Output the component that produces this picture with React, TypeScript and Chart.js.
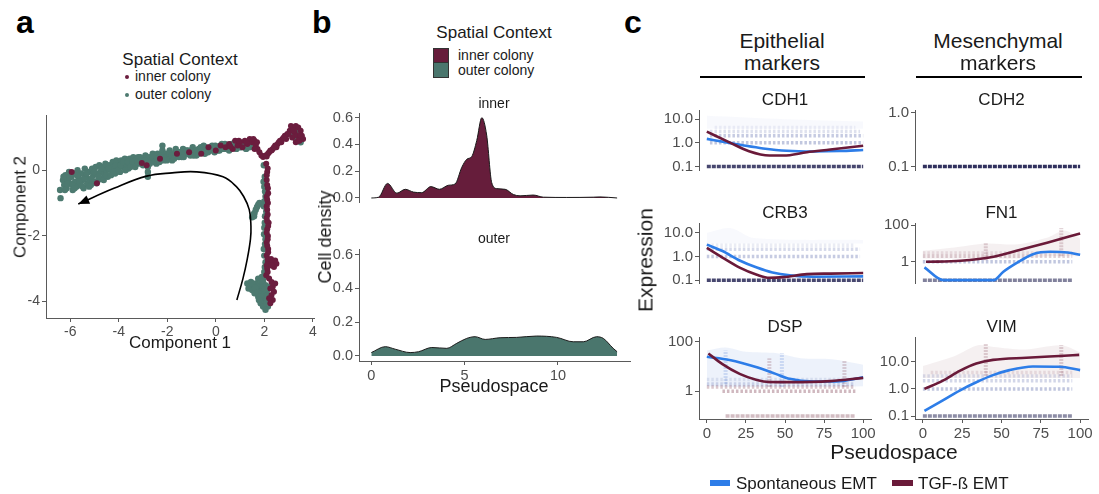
import React, { useEffect, useRef } from "react";
import { Chart, registerables } from "chart.js";
Chart.register(...registerables);

// ---------------- DATA ----------------
// Panel a: trajectory (Component 1, Component 2)
const OUTER_POINTS: [number, number][] = [
  [-6.42, -0.6], [-6.4, -0.85], [-6.3, -0.3], [-6.25, -0.45], [-6.2, -0.15], [-6.15, -0.55], [-6.1, -0.3], [-6.05, -0.05],
  [-6.0, -0.4], [-5.95, -0.2], [-5.9, -0.6], [-5.85, -0.1], [-5.8, -0.35], [-5.75, -0.5], [-5.7, 0.0], [-5.65, -0.25],
  [-5.6, -0.45], [-5.55, -0.1], [-5.5, -0.3], [-5.45, -0.55], [-5.4, 0.05], [-5.35, -0.2], [-5.3, -0.4], [-5.25, -0.05],
  [-5.2, -0.3], [-5.15, -0.45], [-5.1, 0.05], [-5.05, -0.15], [-5.0, -0.35], [-4.95, 0.1], [-4.9, -0.1], [-4.85, -0.3],
  [-4.8, 0.15], [-4.75, -0.05], [-4.7, -0.25], [-4.65, 0.1], [-4.6, -0.1], [-4.55, 0.2], [-4.5, 0.0], [-4.45, -0.2],
  [-4.4, 0.15], [-4.3, 0.0], [-4.25, 0.25], [-4.2, 0.1], [-4.15, -0.1], [-4.1, 0.3], [-4.0, 0.15], [-3.95, -0.05],
  [-3.9, 0.3], [-3.8, 0.1], [-3.75, 0.35], [-3.7, 0.2], [-3.6, 0.05], [-3.55, 0.35], [-3.5, 0.2], [-3.4, 0.4],
  [-3.35, 0.15], [-3.3, 0.3], [-3.2, 0.4], [-3.15, 0.2], [-3.05, 0.35], [-3.0, 0.15], [-2.9, 0.45], [-2.85, 0.25],
  [-2.8, 0.1], [-2.8, -0.05], [-2.8, -0.2], [-2.75, 0.4], [-2.65, 0.3], [-2.6, 0.5], [-2.5, 0.35], [-2.45, 0.2],
  [-2.4, 0.5], [-2.3, 0.4], [-2.2, 0.6], [-2.2, 0.75], [-2.15, 0.3], [-2.05, 0.5], [-1.95, 0.4], [-1.9, 0.6], [-1.8, 0.3],
  [-1.75, 0.5], [-1.65, 0.65], [-1.6, 0.45], [-1.5, 0.55], [-1.4, 0.4], [-1.35, 0.65], [-1.25, 0.5], [-1.15, 0.6],
  [-1.05, 0.45], [-0.95, 0.7], [-0.9, 0.55], [-0.8, 0.45], [-0.7, 0.65], [-0.6, 0.55], [-0.5, 0.75], [-0.45, 0.5],
  [-0.35, 0.65], [-0.25, 0.6], [-0.15, 0.75], [-0.05, 0.55], [0.05, 0.7], [0.15, 0.6], [0.25, 0.8], [0.35, 0.65],
  [0.45, 0.75], [0.55, 0.6], [0.65, 0.8], [0.75, 0.7], [0.85, 0.65], [0.95, 0.85], [1.05, 0.7], [1.15, 0.8],
  [1.25, 0.65], [1.35, 0.75], [1.45, 0.85], [1.55, 0.7],
  [-6.28, -0.2], [-6.22, -0.6], [-6.12, -0.42], [-6.02, -0.22], [-5.92, -0.45], [-5.82, -0.55], [-5.72, -0.15],
  [-5.62, -0.35], [-5.52, -0.48], [-5.42, -0.25], [-5.32, -0.1], [-5.22, -0.5], [-5.12, -0.25], [-5.02, -0.05],
  [-4.92, -0.4], [-4.82, -0.2], [-4.72, 0.05], [-4.62, -0.3], [-4.52, -0.15], [-4.42, 0.05], [-4.32, -0.15],
  [-4.22, -0.05], [-4.12, 0.15], [-4.02, 0.0], [-3.92, 0.15], [-3.82, 0.25], [-3.72, 0.0], [-3.62, 0.25], [-3.52, 0.1],
  [-3.42, 0.25], [-3.32, 0.1], [-3.22, 0.25], [-3.12, 0.4], [-3.02, 0.25], [-2.92, 0.3], [-2.72, 0.2], [-2.62, 0.4],
  [-2.52, 0.25], [-2.42, 0.35], [-2.32, 0.25], [-2.22, 0.45], [-2.12, 0.4], [-2.02, 0.3], [-1.92, 0.5], [-1.82, 0.45],
  [-1.72, 0.35], [-1.62, 0.55], [-1.52, 0.4], [-1.42, 0.55], [-1.32, 0.4], [-1.22, 0.6], [-1.12, 0.5], [-1.02, 0.6],
  [-0.92, 0.45], [-0.82, 0.6], [-0.72, 0.5], [-0.62, 0.7], [-0.52, 0.6], [-0.42, 0.7], [-0.32, 0.55], [-0.22, 0.7],
  [-0.12, 0.6], [-0.02, 0.75], [0.08, 0.6], [0.18, 0.75], [0.28, 0.65], [0.38, 0.8], [0.48, 0.65], [0.58, 0.75],
  [0.68, 0.7], [0.78, 0.85], [0.88, 0.75], [0.98, 0.7], [1.08, 0.85], [1.18, 0.7], [1.28, 0.85], [1.38, 0.7], [1.48, 0.75],
  [1.98, 0.15], [2.02, -0.2], [2.0, -0.5], [2.05, -0.8], [1.98, -1.1], [2.08, -1.25], [2.03, -1.4], [2.0, -1.75],
  [2.05, -2.1], [1.98, -2.4], [2.05, -2.8], [2.0, -3.1],
  [1.97, -0.35], [2.03, -0.65], [2.0, -0.95], [2.02, -1.6], [1.99, -1.95], [2.03, -2.25], [2.0, -2.6], [2.02, -2.95], [2.0, -3.25],
  [1.5, -1.43], [1.55, -1.35], [1.58, -1.4], [1.6, -1.3], [1.65, -1.2], [1.7, -1.12], [1.75, -1.05], [1.8, -1.0],
  [1.3, -3.45], [1.4, -3.55], [1.45, -3.4], [1.5, -3.65], [1.55, -3.5], [1.6, -3.75], [1.65, -3.45], [1.7, -3.6],
  [1.75, -3.85], [1.8, -3.5], [1.85, -3.7], [1.9, -3.95], [1.95, -3.4], [1.95, -3.6], [2.0, -3.8], [2.0, -4.05],
  [2.05, -3.5], [2.1, -3.7], [2.1, -3.95], [2.15, -4.15], [2.05, -4.25], [1.85, -4.05], [1.75, -3.3], [1.9, -3.25],
  [2.2, -3.55], [2.25, -3.85],
  [1.35, -3.6], [1.5, -3.45], [1.62, -3.58], [1.72, -3.72], [1.82, -3.85], [1.92, -3.5], [2.02, -3.62], [2.12, -3.82],
  [1.95, -4.15], [1.78, -3.95], [1.88, -3.38], [2.08, -4.05],
  [3.2, 1.05], [3.3, 0.95], [3.4, 1.15], [3.45, 1.0], [3.5, 0.85], [3.35, 1.25],
];
const INNER_POINTS: [number, number][] = [
  [-5.94, -0.05], [-4.9, -0.4], [-3.05, 0.22], [-2.85, 0.15], [-2.3, 0.35], [-1.6, 0.5], [-1.1, 0.55], [-0.6, 0.5],
  [-0.3, 0.7], [0.0, 0.6], [0.2, 0.75], [0.4, 0.7], [0.55, 0.8], [0.7, 0.65], [0.8, 0.9], [0.9, 0.75], [1.0, 0.85],
  [1.1, 0.7], [1.2, 0.9], [1.3, 0.8], [1.4, 0.95], [1.5, 0.85], [1.6, 0.9], [1.65, 0.75], [1.72, 0.65], [1.8, 0.55],
  [1.88, 0.45], [1.95, 0.4], [0.6, 0.72], [0.95, 0.9], [1.25, 0.85], [1.55, 0.95], [1.7, 0.85], [1.6, 0.65],
  [2.05, 0.45], [2.15, 0.5], [2.25, 0.6], [2.35, 0.65], [2.45, 0.75], [2.55, 0.8], [2.65, 0.9], [2.75, 0.95],
  [2.85, 1.05], [2.95, 1.1], [3.05, 1.2], [3.1, 1.35], [3.2, 1.3], [3.25, 1.15], [3.3, 1.35], [3.4, 1.3], [3.5, 1.2],
  [3.55, 1.05], [3.6, 0.95], [3.45, 0.9], [3.3, 0.85], [3.15, 1.0], [2.5, 0.7], [2.7, 0.85], [2.9, 0.95],
  [2.1, 0.42], [2.2, 0.55], [2.3, 0.6], [2.4, 0.7], [2.6, 0.85], [2.8, 1.0], [3.0, 1.1], [3.2, 1.2], [3.35, 1.05],
  [3.5, 1.05], [3.4, 0.9],
  [2.08, 0.2], [2.12, -0.05], [2.1, -0.3], [2.15, -0.55], [2.1, -0.8], [2.15, -1.0], [2.12, -1.2], [2.1, -1.45],
  [2.18, -1.6], [2.12, -1.8], [2.15, -2.0], [2.1, -2.2], [2.16, -2.4], [2.1, -2.6], [2.15, -2.8], [2.12, -3.0], [2.08, -3.2],
  [2.14, 0.05], [2.1, -0.15], [2.12, -0.45], [2.16, -0.7], [2.12, -0.9], [2.1, -1.1], [2.14, -1.35], [2.12, -1.55],
  [2.16, -1.7], [2.1, -1.9], [2.14, -2.1], [2.12, -2.3], [2.16, -2.5], [2.14, -2.7], [2.1, -2.9], [2.14, -3.1],
  [2.28, -2.7], [2.35, -2.8], [2.45, -2.75], [2.5, -2.85], [2.4, -2.95], [2.3, -2.9],
  [2.2, -3.3], [2.3, -3.4], [2.35, -3.55], [2.25, -3.6], [2.4, -3.7], [2.3, -3.8], [2.35, -3.95], [2.2, -3.9],
  [2.45, -3.45], [2.25, -4.05],
];
const ARROW_PATH: [number, number][] = [
  [0.87, -3.95], [1.12, -3.3], [1.3, -2.7], [1.43, -2.1], [1.45, -1.7], [1.38, -1.2], [1.15, -0.8], [0.85, -0.5],
  [0.3, -0.2], [-0.8, -0.05], [-1.8, -0.08], [-2.85, -0.18], [-4.2, -0.55], [-5.67, -1.03],
];
const A_X_TICKS = [-6, -4, -2, 0, 2, 4];
const A_Y_TICKS = [-4, -2, 0];

// Panel b: density over pseudospace
const DENS_INNER_X = [0, 0.39, 0.87, 1.37, 1.82, 2.26, 2.7, 3.19, 3.65, 4.13, 4.49, 4.85, 5.12, 5.38, 5.65, 5.92, 6.18, 6.45, 6.72, 7.17, 7.61, 7.97, 8.68, 9.22, 10.47, 11.89, 12.25, 13.17];
const DENS_INNER_Y = [0, 0.006, 0.109, 0.036, 0.065, 0.044, 0.04, 0.085, 0.065, 0.095, 0.105, 0.23, 0.29, 0.31, 0.43, 0.6, 0.47, 0.115, 0.07, 0.065, 0.026, 0.016, 0.022, 0.006, 0.004, 0.006, 0.008, 0];
const DENS_OUTER_X = [0, 0.75, 1.28, 2.08, 2.53, 3.24, 4.04, 4.58, 5.11, 5.56, 6.1, 6.9, 7.79, 8.86, 9.93, 10.82, 11.36, 12.07, 12.43, 12.96, 13.17];
const DENS_OUTER_Y = [0.02, 0.055, 0.04, 0.02, 0.025, 0.05, 0.045, 0.075, 0.104, 0.114, 0.098, 0.108, 0.11, 0.118, 0.11, 0.084, 0.084, 0.114, 0.104, 0.045, 0.025];
const B_X_TICKS = [0, 5, 10];
const B_Y_TICKS = [0, 0.2, 0.4, 0.6];

// Panel c: expression along pseudospace
const PSEUDO_TICKS = [0, 25, 50, 75, 100];

const CDH1_SPONT_X = [0, 14.5, 25, 36, 51, 68, 85, 100];
const CDH1_SPONT_Y = [1.48, 1.0, 0.75, 0.58, 0.46, 0.43, 0.45, 0.5];
const CDH1_TGF_X = [0, 14.5, 27, 40, 49, 64, 79, 100];
const CDH1_TGF_Y = [3.0, 1.05, 0.44, 0.29, 0.29, 0.4, 0.52, 0.76];
const CDH1_BANDS: [number, number, number][] = [[0.1, 0, 100], [1, 2, 100], [2, 2, 100], [3, 2, 98], [4.5, 5, 95]];
const CDH1_CLOUD_X = [0, 50, 100];
const CDH1_CLOUD_LO = [4, 4, 4];
const CDH1_CLOUD_HI = [14, 10, 8];

const CRB3_SPONT_X = [0, 10, 21, 32, 42, 53, 68, 100];
const CRB3_SPONT_Y = [3.16, 1.7, 0.68, 0.34, 0.21, 0.16, 0.14, 0.145];
const CRB3_TGF_X = [0, 10, 21, 32, 40, 49, 64, 79, 100];
const CRB3_TGF_Y = [2.3, 0.9, 0.34, 0.17, 0.126, 0.135, 0.18, 0.19, 0.2];
const CRB3_BANDS: [number, number, number][] = [[0.1, 0, 100], [1, 0, 98], [2, 0, 98], [3, 0, 95]];
const CRB3_CLOUD_X = [0, 15, 30, 100];
const CRB3_CLOUD_LO = [3.5, 3.5, 3.5, 3.5];
const CRB3_CLOUD_HI = [10, 16, 6, 5];

const DSP_SPONT_X = [0, 14.5, 32, 44, 53, 68, 83, 100];
const DSP_SPONT_Y = [25, 18.5, 9.4, 5.1, 3.2, 2.5, 2.5, 3.7];
const DSP_TGF_X = [1, 10, 21, 32, 40, 53, 79, 100];
const DSP_TGF_Y = [34, 12.7, 5.1, 2.9, 2.4, 2.35, 2.6, 3.5];
const DSP_BANDS: [number, number, number][] = [[0.1, 12, 95], [1, 10, 95], [1.5, 0, 95], [2, 0, 95], [3, 0, 95]];
const DSP_CLOUD_X = [0, 12, 25, 45, 60, 80, 100];
const DSP_CLOUD_LO = [1.6, 1.5, 1.5, 1.5, 1.5, 1.5, 1.6];
const DSP_CLOUD_HI = [45, 60, 40, 35, 22, 20, 12];
const DSP_SMEARS: [number, number, number][] = [[12, 2, 45], [40, 1.5, 22], [48, 1.5, 35], [88, 1.5, 18]];

const CDH2_BANDS: [number, number, number][] = [[0.1, 0, 100]];

const FN1_SPONT_X = [1, 13, 45, 51, 60, 70, 81, 92, 100];
const FN1_SPONT_Y = [0.5, 0.1, 0.1, 0.28, 0.9, 2.6, 3.5, 3.2, 2.4];
const FN1_TGF_X = [2, 24, 45, 62, 79, 100];
const FN1_TGF_Y = [1.0, 1.13, 1.9, 4.6, 11, 35];
const FN1_BANDS: [number, number, number][] = [[0.1, 0, 95], [1, 0, 95], [2, 0, 95], [3, 0, 95]];
const FN1_CLOUD_X = [0, 20, 40, 60, 80, 90, 100];
const FN1_CLOUD_LO = [1.5, 1.5, 1.5, 1.5, 2, 2, 2];
const FN1_CLOUD_HI = [4, 6, 10, 9, 22, 50, 18];
const FN1_SMEARS: [number, number, number][] = [[40, 1.2, 11], [88, 2, 70]];

const VIM_SPONT_X = [1, 12.7, 23.4, 34, 44.6, 55, 70, 87, 100];
const VIM_SPONT_Y = [0.155, 0.38, 0.87, 1.75, 3.2, 4.9, 6.7, 6.5, 4.9];
const VIM_TGF_X = [1, 12.7, 23.4, 34, 44.6, 65.8, 87, 99.4];
const VIM_TGF_Y = [1.0, 2.0, 4.6, 8.6, 11.7, 14, 16.3, 17.8];
const VIM_BANDS: [number, number, number][] = [[0.1, 0, 95], [1, 0, 95], [2, 0, 95], [3, 0, 95], [4, 5, 95]];
const VIM_CLOUD_X = [0, 20, 35, 45, 65, 88, 100];
const VIM_CLOUD_LO = [2.5, 2.5, 2.5, 2.5, 2.5, 2.5, 2.5];
const VIM_CLOUD_HI = [7, 16, 40, 35, 28, 40, 22];
const VIM_SMEARS: [number, number, number][] = [[40, 3, 45], [88, 3, 40]];

// ---------------- STYLE ----------------
const FONT = '"Liberation Sans", Arimo, Arial, sans-serif';
const AXIS_COL = "#5a5a5a";
const TICK_TXT = "#4d4d4d";
const MAROON = "#661d3b";
const TEAL = "#4a766d";
const DOT_MAROON = "#6b1d3e";
const DOT_TEAL = "#4d7a70";
const BLUE = "#2d7de8";
const LINE_MAROON = "#6a1a39";
const TONES: Record<string, string> = { k: "25,25,75", n: "50,70,150", m: "110,35,55", b: "60,110,210" };

type Area = { l: number; t: number; r: number; b: number };

function geom(area: Area, yW: number, xH: number, padT = 10, padR = 18, padB = 2) {
  return {
    box: { left: area.l - yW, top: area.t - padT, width: yW + (area.r - area.l) + padR, height: padT + (area.b - area.t) + xH + padB },
    padding: { top: padT, right: padR, bottom: padB, left: 0 },
  };
}

function axis(o: { type: string; min: number; max: number; ticks: number[]; fmt: (v: number) => string; size: number; fit: "w" | "h"; fitSize: number; display?: boolean; position: string }) {
  return {
    type: o.type,
    position: o.position,
    display: o.display !== false,
    min: o.min,
    max: o.max,
    afterFit: (s: any) => {
      if (o.fit === "w") s.width = o.fitSize;
      else s.height = o.fitSize;
    },
    afterBuildTicks: (s: any) => {
      s.ticks = o.ticks.map((v) => ({ value: v }));
    },
    ticks: {
      callback: (v: any) => o.fmt(Number(v)),
      font: { family: FONT, size: o.size },
      color: TICK_TXT,
      padding: 2,
      autoSkip: false,
      maxRotation: 0,
      minRotation: 0,
    },
    grid: { display: true, drawOnChartArea: false, drawTicks: true, tickLength: 4, color: AXIS_COL, lineWidth: 1 },
    border: { display: true, color: AXIS_COL, width: 1 },
  };
}

const baseOpts = (padding: any) => ({
  responsive: false,
  animation: false,
  events: [],
  layout: { padding },
  plugins: { legend: { display: false }, tooltip: { enabled: false } },
});

function ChartBox({ box, make }: { box: any; make: () => any }) {
  const ref = useRef<HTMLCanvasElement>(null);
  useEffect(() => {
    const chart = new Chart(ref.current as HTMLCanvasElement, make());
    return () => chart.destroy();
  }, []);
  return (
    <canvas
      ref={ref}
      width={box.width}
      height={box.height}
      style={{ position: "absolute", left: box.left, top: box.top, width: box.width, height: box.height }}
    />
  );
}

function Txt({ x, y, size, children, anchor = "middle", bold = false, color = "#1a1a1a", rotate = false }: any) {
  const tx = anchor === "middle" ? "-50%" : anchor === "start" ? "0px" : "-100%";
  return (
    <div
      style={{
        position: "absolute",
        left: x,
        top: y,
        fontFamily: FONT,
        fontSize: size,
        fontWeight: bold ? 700 : 400,
        color,
        lineHeight: 1,
        whiteSpace: "nowrap",
        transform: `translate(${tx},-50%)${rotate ? " rotate(-90deg)" : ""}`,
      }}
    >
      {children}
    </div>
  );
}

// ---------------- PANEL A ----------------
const A_AREA: Area = { l: 46, t: 115, r: 314, b: 318 };
const A_GEOM = geom(A_AREA, 36, 22);

const arrowHead = {
  id: "arrowHead",
  afterDatasetsDraw(chart: any) {
    const pts = chart.getDatasetMeta(0).data;
    const n = pts.length;
    const p1 = pts[n - 1];
    const p0 = pts[n - 2];
    const ang = Math.atan2(p1.y - p0.y, p1.x - p0.x);
    const L = 11;
    const W = 4.5;
    const ctx = chart.ctx;
    ctx.save();
    ctx.fillStyle = "#000";
    ctx.beginPath();
    ctx.moveTo(p1.x, p1.y);
    ctx.lineTo(p1.x - L * Math.cos(ang) + W * Math.sin(ang), p1.y - L * Math.sin(ang) - W * Math.cos(ang));
    ctx.lineTo(p1.x - L * Math.cos(ang) - W * Math.sin(ang), p1.y - L * Math.sin(ang) + W * Math.cos(ang));
    ctx.closePath();
    ctx.fill();
    ctx.restore();
  },
};

function makeA() {
  return {
    type: "scatter",
    data: {
      datasets: [
        {
          type: "line",
          data: ARROW_PATH.map(([x, y]) => ({ x, y })),
          borderColor: "#000",
          borderWidth: 1.6,
          pointRadius: 0,
          tension: 0.4,
          fill: false,
          order: 0,
        },
        { data: INNER_POINTS.map(([x, y]) => ({ x, y })), backgroundColor: DOT_MAROON, borderWidth: 0, pointRadius: 3, order: 1 },
        { data: OUTER_POINTS.map(([x, y]) => ({ x, y })), backgroundColor: DOT_TEAL, borderWidth: 0, pointRadius: 3.2, order: 2 },
      ],
    },
    options: {
      ...baseOpts(A_GEOM.padding),
      scales: {
        x: axis({ type: "linear", position: "bottom", min: -7.0, max: 4.05, ticks: A_X_TICKS, fmt: (v) => String(v), size: 14, fit: "h", fitSize: 22 }),
        y: axis({ type: "linear", position: "left", min: -4.5, max: 1.67, ticks: A_Y_TICKS, fmt: (v) => String(v), size: 14, fit: "w", fitSize: 36 }),
      },
    },
    plugins: [arrowHead],
  };
}

// ---------------- PANEL B ----------------
const B_UP_AREA: Area = { l: 359, t: 113, r: 630, b: 224 };
const B_LO_AREA: Area = { l: 359, t: 249, r: 630, b: 361 };
const B_UP_GEOM = geom(B_UP_AREA, 40, 0);
const B_LO_GEOM = geom(B_LO_AREA, 40, 22);

function makeB(xs: number[], ys: number[], fillColor: string, showX: boolean, padding: any) {
  return {
    type: "line",
    data: {
      datasets: [
        {
          data: xs.map((x, i) => ({ x, y: ys[i] })),
          backgroundColor: fillColor,
          borderColor: "#1a1a1a",
          borderWidth: 1,
          pointRadius: 0,
          fill: "origin",
          cubicInterpolationMode: "monotone",
        },
      ],
    },
    options: {
      ...baseOpts(padding),
      scales: {
        x: axis({ type: "linear", position: "bottom", min: -0.66, max: 13.86, ticks: B_X_TICKS, fmt: (v) => String(v), size: 14.5, fit: "h", fitSize: 22, display: showX }),
        y: axis({ type: "linear", position: "left", min: -0.03, max: 0.63, ticks: B_Y_TICKS, fmt: (v) => v.toFixed(1), size: 14.5, fit: "w", fitSize: 40 }),
      },
    },
  };
}

// ---------------- PANEL C ----------------
const C_COLS = [{ l: 699, r: 871 }, { l: 915, r: 1088 }];
const C_ROWS = [{ t: 109, b: 194 }, { t: 222, b: 307 }, { t: 336, b: 419 }];
const C_YW = 42;
const C_XH = 24;

type Gene = {
  name: string;
  col: number;
  row: number;
  yMin: number;
  yMax: number;
  yTicks: number[];
  yLabels: string[];
  spont?: [number[], number[]];
  tgf?: [number[], number[]];
  bands: [number, number, number][];
  bandTones: string[];
  bandAlpha: number[];
  cloud?: [number[], number[], number[]];
  cloudColor?: string;
  smears?: [number, number, number][];
  smearTones?: string[];
};

const GENES: Gene[] = [
  {
    name: "CDH1", col: 0, row: 0, yMin: 0.0706, yMax: 24.8, yTicks: [0.1, 1, 10], yLabels: ["0.1", "1.0", "10.0"],
    spont: [CDH1_SPONT_X, CDH1_SPONT_Y], tgf: [CDH1_TGF_X, CDH1_TGF_Y],
    bands: CDH1_BANDS, bandTones: ["k", "n", "n", "n", "n"], bandAlpha: [0.8, 0.3, 0.28, 0.16, 0.08],
    cloud: [CDH1_CLOUD_X, CDH1_CLOUD_LO, CDH1_CLOUD_HI], cloudColor: "rgba(70,110,200,0.04)",
  },
  {
    name: "CRB3", col: 0, row: 1, yMin: 0.076, yMax: 26, yTicks: [0.1, 1, 10], yLabels: ["0.1", "1.0", "10.0"],
    spont: [CRB3_SPONT_X, CRB3_SPONT_Y], tgf: [CRB3_TGF_X, CRB3_TGF_Y],
    bands: CRB3_BANDS, bandTones: ["k", "n", "n", "n"], bandAlpha: [0.8, 0.28, 0.2, 0.1],
    cloud: [CRB3_CLOUD_X, CRB3_CLOUD_LO, CRB3_CLOUD_HI], cloudColor: "rgba(70,110,200,0.04)",
  },
  {
    name: "DSP", col: 0, row: 2, yMin: 0.076, yMax: 158, yTicks: [1, 100], yLabels: ["1", "100"],
    spont: [DSP_SPONT_X, DSP_SPONT_Y], tgf: [DSP_TGF_X, DSP_TGF_Y],
    bands: DSP_BANDS, bandTones: ["m", "m", "m", "n", "n"], bandAlpha: [0.3, 0.32, 0.25, 0.2, 0.12],
    cloud: [DSP_CLOUD_X, DSP_CLOUD_LO, DSP_CLOUD_HI], cloudColor: "rgba(60,110,210,0.09)",
    smears: DSP_SMEARS, smearTones: ["b", "m", "b", "m"],
  },
  {
    name: "CDH2", col: 1, row: 0, yMin: 0.086, yMax: 1.13, yTicks: [0.1, 1], yLabels: ["0.1", "1.0"],
    bands: CDH2_BANDS, bandTones: ["k"], bandAlpha: [0.9],
  },
  {
    name: "FN1", col: 1, row: 1, yMin: 0.07, yMax: 130, yTicks: [1, 100], yLabels: ["1", "100"],
    spont: [FN1_SPONT_X, FN1_SPONT_Y], tgf: [FN1_TGF_X, FN1_TGF_Y],
    bands: FN1_BANDS, bandTones: ["k", "n", "m", "m"], bandAlpha: [0.55, 0.3, 0.2, 0.12],
    cloud: [FN1_CLOUD_X, FN1_CLOUD_LO, FN1_CLOUD_HI], cloudColor: "rgba(120,40,50,0.07)",
    smears: FN1_SMEARS, smearTones: ["m", "m"],
  },
  {
    name: "VIM", col: 1, row: 2, yMin: 0.078, yMax: 81, yTicks: [0.1, 1, 10], yLabels: ["0.1", "1.0", "10.0"],
    spont: [VIM_SPONT_X, VIM_SPONT_Y], tgf: [VIM_TGF_X, VIM_TGF_Y],
    bands: VIM_BANDS, bandTones: ["k", "n", "n", "n", "m"], bandAlpha: [0.5, 0.3, 0.22, 0.16, 0.12],
    cloud: [VIM_CLOUD_X, VIM_CLOUD_LO, VIM_CLOUD_HI], cloudColor: "rgba(120,40,50,0.07)",
    smears: VIM_SMEARS, smearTones: ["m", "m"],
  },
];

function geneArea(g: Gene): Area {
  return { l: C_COLS[g.col].l, r: C_COLS[g.col].r, t: C_ROWS[g.row].t, b: C_ROWS[g.row].b };
}

function makeGene(g: Gene, padding: any) {
  const ds: any[] = [];
  const pts = (xs: number[], ys: number[]) => xs.map((x, i) => ({ x, y: ys[i] }));
  if (g.cloud) {
    const [cx, lo, hi] = g.cloud;
    ds.push({ data: pts(cx, lo), borderColor: "rgba(0,0,0,0)", borderWidth: 1, pointRadius: 0, fill: false, order: 10, tension: 0.3 });
    ds.push({ data: pts(cx, hi), borderColor: "rgba(0,0,0,0)", borderWidth: 1, pointRadius: 0, fill: "-1", backgroundColor: g.cloudColor, order: 10, tension: 0.3 });
  }
  (g.smears || []).forEach(([x, y0, y1], i) => {
    const tone = TONES[(g.smearTones || [])[i] || "m"];
    ds.push({ data: [{ x, y: y0 }, { x, y: y1 }], borderColor: `rgba(${tone},0.2)`, borderWidth: 4, borderDash: [2, 1], pointRadius: 0, fill: false, order: 6 });
  });
  g.bands.forEach(([lvl, x0, x1], i) => {
    const tone = TONES[g.bandTones[i]];
    ds.push({
      data: [{ x: x0, y: lvl }, { x: x1, y: lvl }],
      borderColor: `rgba(${tone},${g.bandAlpha[i]})`,
      borderWidth: 3.5,
      borderDash: i === 0 ? [4, 1] : [2.5, 2],
      pointRadius: 0,
      fill: false,
      order: 5,
    });
  });
  if (g.spont) ds.push({ data: pts(g.spont[0], g.spont[1]), borderColor: BLUE, borderWidth: 2.6, pointRadius: 0, fill: false, cubicInterpolationMode: "monotone", order: 1 });
  if (g.tgf) ds.push({ data: pts(g.tgf[0], g.tgf[1]), borderColor: LINE_MAROON, borderWidth: 2.6, pointRadius: 0, fill: false, cubicInterpolationMode: "monotone", order: 0 });
  const showX = g.row === 2;
  return {
    type: "line",
    data: { datasets: ds },
    options: {
      ...baseOpts(padding),
      scales: {
        x: axis({ type: "linear", position: "bottom", min: -5, max: 105, ticks: PSEUDO_TICKS, fmt: (v) => String(v), size: 15, fit: "h", fitSize: C_XH, display: showX }),
        y: axis({
          type: "logarithmic", position: "left", min: g.yMin, max: g.yMax, ticks: g.yTicks,
          fmt: (v) => { const i = g.yTicks.findIndex((t) => Math.abs(t - v) < 1e-9); return i >= 0 ? g.yLabels[i] : ""; },
          size: 15, fit: "w", fitSize: C_YW,
        }),
      },
    },
  };
}

// ---------------- APP ----------------
export default function App() {
  return (
    <div style={{ position: "fixed", left: 0, top: 0, width: 1099, height: 494, background: "#fff", overflow: "hidden" }}>
      <ChartBox box={A_GEOM.box} make={makeA} />
      <ChartBox box={B_UP_GEOM.box} make={() => makeB(DENS_INNER_X, DENS_INNER_Y, MAROON, false, B_UP_GEOM.padding)} />
      <ChartBox box={B_LO_GEOM.box} make={() => makeB(DENS_OUTER_X, DENS_OUTER_Y, TEAL, true, B_LO_GEOM.padding)} />
      {GENES.map((g) => {
        const gg = geom(geneArea(g), C_YW, g.row === 2 ? C_XH : 0);
        return <ChartBox key={g.name} box={gg.box} make={() => makeGene(g, gg.padding)} />;
      })}

      {/* Panel letters */}
      <Txt x={16} y={22} size={32} bold anchor="start" color="#000">a</Txt>
      <Txt x={312} y={22} size={32} bold anchor="start" color="#000">b</Txt>
      <Txt x={624} y={22} size={32} bold anchor="start" color="#000">c</Txt>

      {/* Panel a texts */}
      <Txt x={180} y={59} size={17}>Spatial Context</Txt>
      <div style={{ position: "absolute", left: 125, top: 75, width: 4, height: 4, borderRadius: 2, background: DOT_MAROON }} />
      <div style={{ position: "absolute", left: 125, top: 93, width: 4, height: 4, borderRadius: 2, background: DOT_TEAL }} />
      <Txt x={135} y={76} size={14} anchor="start">inner colony</Txt>
      <Txt x={135} y={94} size={14} anchor="start">outer colony</Txt>
      <Txt x={180} y={342} size={17}>Component 1</Txt>
      <Txt x={20} y={207} size={17} rotate>Component 2</Txt>

      {/* Panel b texts */}
      <Txt x={494} y={32} size={17}>Spatial Context</Txt>
      <div style={{ position: "absolute", left: 433, top: 48, width: 14, height: 13, background: MAROON, border: "1px solid #333" }} />
      <div style={{ position: "absolute", left: 433, top: 62, width: 14, height: 14, background: TEAL, border: "1px solid #333" }} />
      <Txt x={458} y={55} size={14} anchor="start">inner colony</Txt>
      <Txt x={458} y={70} size={14} anchor="start">outer colony</Txt>
      <Txt x={494} y={103} size={14}>inner</Txt>
      <Txt x={494} y={238} size={14}>outer</Txt>
      <Txt x={325} y={237} size={18} rotate>Cell density</Txt>
      <Txt x={494} y={386} size={18}>Pseudospace</Txt>

      {/* Panel c texts */}
      <Txt x={782} y={40} size={21}>Epithelial</Txt>
      <Txt x={782} y={62} size={21}>markers</Txt>
      <div style={{ position: "absolute", left: 700, top: 76, width: 165, height: 1.5, background: "#000" }} />
      <Txt x={998} y={40} size={21}>Mesenchymal</Txt>
      <Txt x={998} y={62} size={21}>markers</Txt>
      <div style={{ position: "absolute", left: 916, top: 76, width: 166, height: 1.5, background: "#000" }} />
      {GENES.map((g) => {
        const a = geneArea(g);
        return (
          <Txt key={"t" + g.name} x={(a.l + a.r) / 2} y={a.t - 10} size={17}>
            {g.name}
          </Txt>
        );
      })}
      <Txt x={645} y={260} size={21} rotate>Expression</Txt>
      <Txt x={894} y={451} size={21}>Pseudospace</Txt>
      <div style={{ position: "absolute", left: 710, top: 480, width: 20, height: 6, background: BLUE }} />
      <Txt x={736} y={483} size={17} anchor="start">Spontaneous EMT</Txt>
      <div style={{ position: "absolute", left: 892, top: 480, width: 21, height: 6, background: LINE_MAROON }} />
      <Txt x={918} y={483} size={17} anchor="start">TGF-ß EMT</Txt>
    </div>
  );
}
